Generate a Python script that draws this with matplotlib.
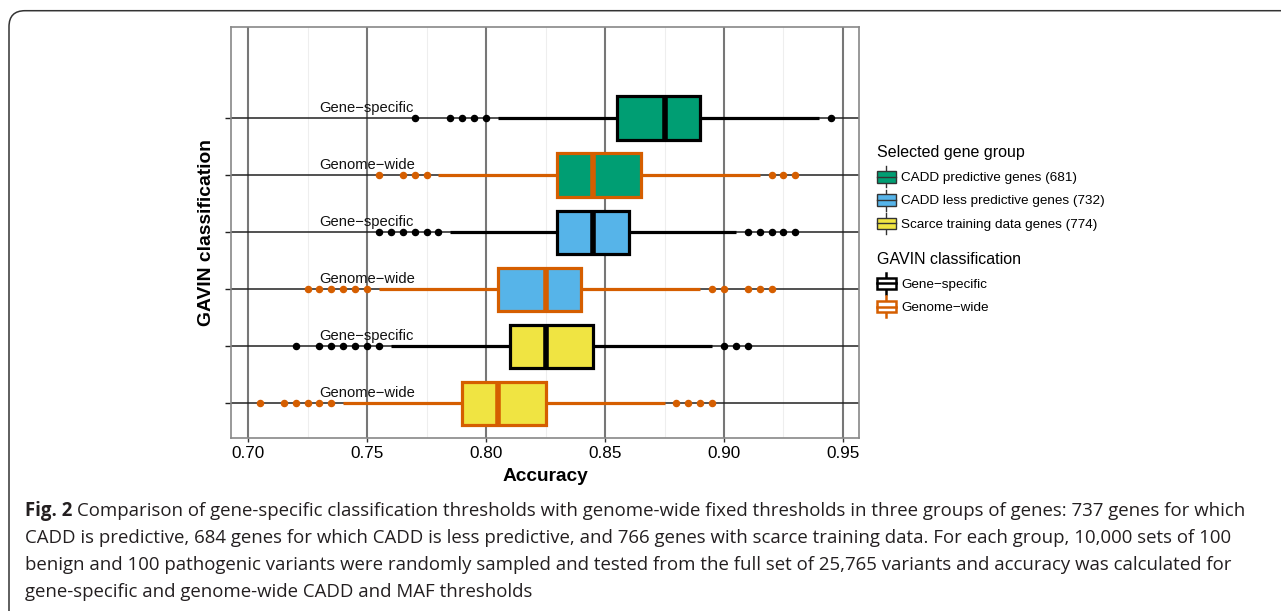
import matplotlib
matplotlib.use("Agg")
import matplotlib.pyplot as plt
from matplotlib.patches import Patch, Rectangle, FancyBboxPatch
from matplotlib.lines import Line2D
from matplotlib.legend_handler import HandlerBase
from matplotlib.transforms import IdentityTransform

plt.rcParams['font.family'] = ['Liberation Sans', 'DejaVu Sans']

# dados (linhas de cima para baixo)
row_labels = ["Gene\u2212specific", "Genome\u2212wide", "Gene\u2212specific",
              "Genome\u2212wide", "Gene\u2212specific", "Genome\u2212wide"]
row_group = [0, 0, 1, 1, 2, 2]
row_class = [0, 1, 0, 1, 0, 1]
q1 = [0.855, 0.830, 0.830, 0.805, 0.810, 0.790]
med = [0.875, 0.845, 0.845, 0.825, 0.825, 0.805]
q3 = [0.890, 0.865, 0.860, 0.840, 0.845, 0.825]
whislo = [0.805, 0.780, 0.785, 0.755, 0.760, 0.740]
whishi = [0.940, 0.915, 0.905, 0.890, 0.895, 0.875]
fliers = [
    [0.770, 0.785, 0.790, 0.795, 0.800, 0.945],
    [0.755, 0.765, 0.770, 0.775, 0.920, 0.925, 0.930],
    [0.755, 0.760, 0.765, 0.770, 0.775, 0.780, 0.910, 0.915, 0.920, 0.925, 0.930],
    [0.725, 0.730, 0.735, 0.740, 0.745, 0.750, 0.895, 0.900, 0.910, 0.915, 0.920],
    [0.720, 0.730, 0.735, 0.740, 0.745, 0.750, 0.755, 0.900, 0.905, 0.910],
    [0.705, 0.715, 0.720, 0.725, 0.730, 0.735, 0.880, 0.885, 0.890, 0.895],
]
group_names = ["CADD predictive genes (681)", "CADD less predictive genes (732)",
               "Scarce training data genes (774)"]
group_colors = ["#009E73", "#56B4E9", "#F0E442"]
class_names = ["Gene\u2212specific", "Genome\u2212wide"]
class_colors = ["#000000", "#D55E00"]
x_ticks = [0.70, 0.75, 0.80, 0.85, 0.90, 0.95]
x_minor = [0.725, 0.775, 0.825, 0.875, 0.925]

caption = [
    "Comparison of gene-specific classification thresholds with genome-wide fixed thresholds in three groups of genes: 737 genes for which",
    "CADD is predictive, 684 genes for which CADD is less predictive, and 766 genes with scarce training data. For each group, 10,000 sets of 100",
    "benign and 100 pathogenic variants were randomly sampled and tested from the full set of 25,765 variants and accuracy was calculated for",
    "gene-specific and genome-wide CADD and MAF thresholds",
]

W, H = 1281, 611
fig = plt.figure(figsize=(W / 100, H / 100), dpi=100)
ax = fig.add_axes([231.3 / W, 1 - 437.7 / H, 628 / W, 411 / H])

n = len(row_labels)
pos = [n - i for i in range(n)]  # linha de cima = 6

for i in range(n):
    ec = class_colors[row_class[i]]
    fc = group_colors[row_group[i]]
    st = [dict(med=med[i], q1=q1[i], q3=q3[i], whislo=whislo[i], whishi=whishi[i], fliers=fliers[i])]
    ax.bxp(st, positions=[pos[i]], orientation='horizontal', widths=0.76, showcaps=False,
           patch_artist=True,
           boxprops=dict(facecolor=fc, edgecolor=ec, linewidth=2.3),
           whiskerprops=dict(color=ec, linewidth=2.3, solid_capstyle='butt'),
           medianprops=dict(color=ec, linewidth=4, solid_capstyle='butt'),
           flierprops=dict(marker='o', markerfacecolor=ec, markeredgecolor=ec, markersize=4.4,
                           linestyle='none'),
           zorder=3)
    ax.text(0.73, pos[i] + 0.18, row_labels[i], ha='left', va='center', fontsize=10.6,
            color='#111111', zorder=5)

ax.set_xlim(0.69298, 0.95685)
ax.set_ylim(0.4, 7.6)
ax.set_xticks(x_ticks)
ax.set_xticklabels(["%.2f" % v for v in x_ticks], fontsize=12.3)
ax.set_xticks(x_minor, minor=True)
ax.set_yticks(pos)
ax.set_yticklabels([])
ax.tick_params(axis='x', which='major', length=3, width=1, color='#333333', pad=3)
ax.tick_params(axis='x', which='minor', length=0)
ax.tick_params(axis='y', length=4, width=1, color='#222222')
ax.grid(True, axis='x', which='major', color='#777777', linewidth=1.5, zorder=0)
ax.grid(True, axis='x', which='minor', color='#eeeeee', linewidth=0.8, zorder=0)
ax.grid(True, axis='y', which='major', color='#222222', linewidth=1.1, zorder=0)
ax.set_axisbelow(True)
for sp in ax.spines.values():
    sp.set_color('#888888')
    sp.set_linewidth(1.2)

ax.set_xlabel("Accuracy", fontsize=13.8, fontweight='bold', labelpad=5)
ax.set_ylabel("GAVIN classification", fontsize=13.9, fontweight='bold')
ax.yaxis.set_label_coords(-16 / 628, 0.5)


class BoxKey(HandlerBase):
    def create_artists(self, legend, orig_handle, xdescent, ydescent, width, height, fontsize, trans):
        fc = orig_handle.get_facecolor()
        ec = orig_handle.get_edgecolor()
        lw = orig_handle.get_linewidth()
        x0, y0 = -xdescent, -ydescent
        cx = x0 + width / 2
        bh = height * 0.56
        wh = Line2D([cx, cx], [y0, y0 + height], color=ec, lw=lw, transform=trans)
        rect = Rectangle((x0, y0 + (height - bh) / 2), width, bh, facecolor=fc, edgecolor=ec,
                         lw=lw, transform=trans)
        md = Line2D([x0, x0 + width], [y0 + height / 2] * 2, color=ec, lw=lw, transform=trans)
        return [wh, rect, md]


h1 = [Patch(facecolor=c, edgecolor='#333333', linewidth=1.0) for c in group_colors]
h2 = [Patch(facecolor='white', edgecolor=c, linewidth=1.8) for c in class_colors]
leg_kw = dict(frameon=False, loc='upper left', fontsize=9.7,
              handlelength=1.4, handleheight=2.0, handletextpad=0.4,
              labelspacing=0.18, borderpad=0, borderaxespad=0,
              handler_map={Patch: BoxKey()})
fig.text(877 / W, 1 - 153 / H, "Selected gene group", fontsize=11.5, va='center', ha='left')
leg1 = fig.legend(h1, group_names, bbox_to_anchor=(877 / W, 1 - 166.5 / H), **leg_kw)
fig.text(877 / W, 1 - 260 / H, "GAVIN classification", fontsize=11.5, va='center', ha='left')
leg2 = fig.legend(h2, class_names, bbox_to_anchor=(877 / W, 1 - 273 / H), **leg_kw)

# moldura arredondada da figura
frame = FancyBboxPatch((9, -40), 1400, H - 10.7 + 40, boxstyle="round,pad=0,rounding_size=16",
                       transform=IdentityTransform(), facecolor='none', edgecolor='#333333',
                       linewidth=1.1)
fig.patches.append(frame)

# legenda da figura
cap_font = dict(family=['Open Sans', 'DejaVu Sans'], fontsize=13.45, color='#231f20')
ys = [511, 538, 565, 592]
t = fig.text(25 / W, 1 - ys[0] / H, "Fig. 2", va='center', ha='left', fontweight='bold', **cap_font)
r = fig.canvas.get_renderer()
bb = t.get_window_extent(r)
fig.text((bb.x1 + 5) / W, 1 - ys[0] / H, caption[0], va='center', ha='left', **cap_font)
for k in range(1, 4):
    fig.text(25 / W, 1 - ys[k] / H, caption[k], va='center', ha='left', **cap_font)

fig.savefig("out.png", dpi=100)
